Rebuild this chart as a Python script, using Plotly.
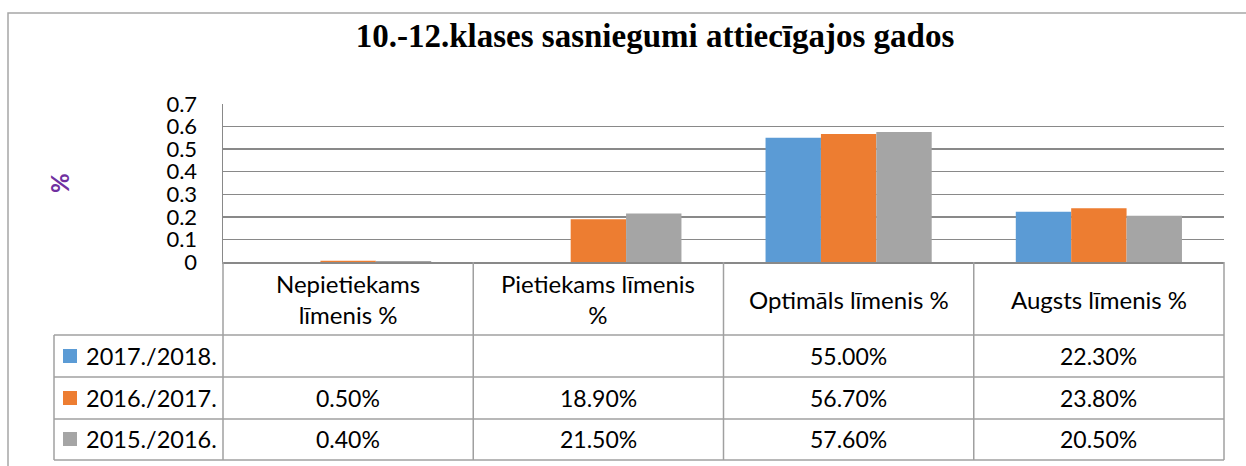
import plotly.graph_objects as go

# ---- data ----
categories = ["Nepietiekams līmenis %", "Pietiekams līmenis %", "Optimāls līmenis %", "Augsts līmenis %"]
header_labels = ["Nepietiekams<br>līmenis %", "Pietiekams līmenis<br>%", "Optimāls līmenis %", "Augsts līmenis %"]
series_names = ["2017./2018.", "2016./2017.", "2015./2016."]
values_2017_2018 = [None, None, 0.550, 0.223]
values_2016_2017 = [0.005, 0.189, 0.567, 0.238]
values_2015_2016 = [0.004, 0.215, 0.576, 0.205]
y_ticks = [0, 0.1, 0.2, 0.3, 0.4, 0.5, 0.6, 0.7]
title_text = "10.-12.klases sasniegumi attiecīgajos gados"

series_values = [values_2017_2018, values_2016_2017, values_2015_2016]
colors = ["#5B9BD5", "#ED7D31", "#A5A5A5"]

W, H = 1246, 466
L, R, T, B = 223, 22, 104, 204
PW = W - L - R
PH = H - T - B

def px_x(px):
    return (px - L) / PW

def px_y(py):
    return (H - B - py) / PH

fig = go.Figure()
idx = list(range(len(categories)))
for name, vals, col in zip(series_names, series_values, colors):
    fig.add_trace(go.Bar(
        x=idx, y=vals, name=name, marker=dict(color=col, line=dict(width=0)),
        showlegend=False, hoverinfo="skip",
    ))

font_main = "Lato, Carlito, Calibri, sans-serif"
grid_col = "#898989"
tbl_col = "#A0A0A0"

shapes = []
annotations = []

# outer chart border (left + top visible)
shapes.append(dict(type="rect", xref="paper", yref="paper",
                   x0=px_x(8), x1=px_x(W + 20), y0=px_y(H + 20), y1=px_y(13),
                   line=dict(color="#A6A6A6", width=1.5), layer="below"))

# table grid
row_lines = [335, 377, 419, 460]
for ry in row_lines:
    shapes.append(dict(type="line", xref="paper", yref="paper",
                       x0=px_x(54), x1=px_x(L + PW), y0=px_y(ry), y1=px_y(ry),
                       line=dict(color=tbl_col, width=1.5)))
for i in range(len(categories) + 1):
    xpx = L + i * PW / len(categories)
    shapes.append(dict(type="line", xref="paper", yref="paper",
                       x0=px_x(xpx), x1=px_x(xpx), y0=px_y(H - B), y1=px_y(460),
                       line=dict(color=tbl_col, width=1.5)))
shapes.append(dict(type="line", xref="paper", yref="paper",
                   x0=px_x(54), x1=px_x(54), y0=px_y(335), y1=px_y(460),
                   line=dict(color=tbl_col, width=1.5)))

# header labels
for i, lab in enumerate(header_labels):
    annotations.append(dict(x=i, xref="x", y=px_y(299), yref="paper", text=lab,
                            showarrow=False, xanchor="center", yanchor="middle",
                            font=dict(family=font_main, size=24, color="#000000")))

# rows
row_centers = [356, 398, 439]
for r, (name, vals, col) in enumerate(zip(series_names, series_values, colors)):
    cy = row_centers[r]
    shapes.append(dict(type="rect", xref="paper", yref="paper",
                       x0=px_x(63), x1=px_x(77), y0=px_y(cy + 7), y1=px_y(cy - 7),
                       fillcolor=col, line=dict(width=0)))
    annotations.append(dict(x=px_x(84), xref="paper", y=px_y(cy), yref="paper", text=name,
                            showarrow=False, xanchor="left", yanchor="middle",
                            font=dict(family=font_main, size=23.5, color="#000000")))
    for i, v in enumerate(vals):
        if v is None:
            continue
        annotations.append(dict(x=i, xref="x", y=px_y(cy), yref="paper",
                                text=f"{v * 100:.2f}%", showarrow=False,
                                xanchor="center", yanchor="middle",
                                font=dict(family=font_main, size=23, color="#000000")))

# y-axis title
annotations.append(dict(x=px_x(59), xref="paper", y=px_y(183), yref="paper", text="<b>%</b>",
                        showarrow=False, textangle=-90, xanchor="center", yanchor="middle",
                        font=dict(family=font_main, size=24, color="#7030A0")))

fig.update_layout(
    width=W, height=H,
    margin=dict(l=L, r=R, t=T, b=B, pad=0),
    paper_bgcolor="#FFFFFF", plot_bgcolor="#FFFFFF",
    barmode="group", bargap=0.336, bargroupgap=0,
    hovermode=False,
    title=dict(text=f"<b>{title_text}</b>", x=655 / W, xref="container", xanchor="center",
               y=1 - 35 / H, yref="container", yanchor="middle",
               font=dict(family="Liberation Serif, Times New Roman, serif", size=33, color="#000000")),
    shapes=shapes, annotations=annotations,
    xaxis=dict(range=[-0.5, len(categories) - 0.5], showticklabels=False, showgrid=False,
               zeroline=False, showline=True, linecolor=grid_col, linewidth=1.5, ticks="",
               fixedrange=True),
    yaxis=dict(range=[0, 0.7], tickvals=y_ticks, ticktext=[f"{t:g}" for t in y_ticks],
               showgrid=True, gridcolor=grid_col, gridwidth=1.5, zeroline=False,
               showline=True, linecolor=grid_col, linewidth=1.5, ticks="",
               ticklabelstandoff=20, fixedrange=True,
               tickfont=dict(family=font_main, size=22, color="#000000")),
)

fig.write_html("out.html", config={"displayModeBar": False, "staticPlot": True},
               post_script="document.body.style.margin='0';document.body.style.overflow='hidden';")
